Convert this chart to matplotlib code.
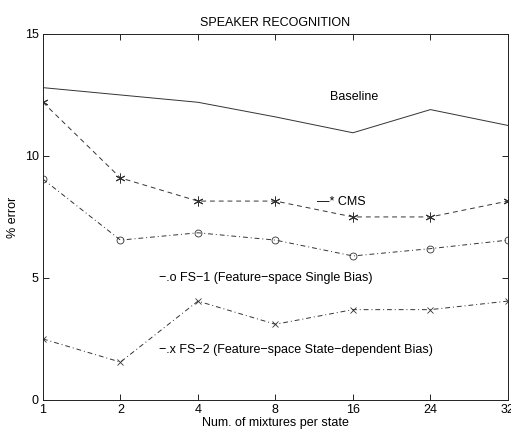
import matplotlib
matplotlib.use("Agg")
from matplotlib import pyplot as plt

plt.rcParams['font.family'] = ['Liberation Sans', 'DejaVu Sans']

#--- Data
mixtures = ['1', '2', '4', '8', '16', '24', '32']
baseline = [12.8, 12.5, 12.2, 11.6, 10.95, 11.9, 11.25]
cms = [12.2, 9.1, 8.15, 8.15, 7.5, 7.5, 8.15]
fs1 = [9.05, 6.55, 6.85, 6.55, 5.9, 6.2, 6.55]
fs2 = [2.5, 1.55, 4.05, 3.1, 3.7, 3.7, 4.05]

xpos = list(range(len(mixtures)))

fig = plt.figure(figsize=(5.11, 4.30), dpi=100)
ax = fig.add_axes([0.084, 0.07, 0.91, 0.851])

lc = '#333333'
ax.plot(xpos, baseline, color=lc, linestyle='-', linewidth=0.7)
ax.plot(xpos, cms, color=lc, linestyle='--', linewidth=0.7, dashes=(5, 4),
        marker=(6, 2, 0), markersize=7, markeredgewidth=0.7)
ax.plot(xpos, fs1, color=lc, linestyle='-.', linewidth=0.7, dashes=(5, 3, 1, 3),
        marker='o', markersize=5, markerfacecolor='none', markeredgewidth=0.6)
ax.plot(xpos, fs2, color=lc, linestyle='-.', linewidth=0.7, dashes=(5, 3, 1, 3),
        marker='x', markersize=5, markeredgewidth=0.6)

fs = 9
ax.text(3.7, 12.4, 'Baseline', fontsize=fs, ha='left', va='center')
ax.text(3.53, 8.1, '—* CMS', fontsize=fs, ha='left', va='center')
ax.text(1.5, 5.0, '\u2212.o FS\u22121 (Feature\u2212space Single Bias)', fontsize=fs, ha='left', va='center')
ax.text(1.5, 2.05, '\u2212.x FS\u22122 (Feature\u2212space State\u2212dependent Bias)', fontsize=fs, ha='left', va='center')

ax.set_xlim(0, 6)
ax.set_ylim(0, 15)
ax.set_xticks(xpos)
ax.set_xticklabels(mixtures)
ax.set_yticks([0, 5, 10, 15])
ax.tick_params(direction='in', top=True, right=True, labelsize=fs, length=4, width=0.6, pad=3)
for s in ax.spines.values():
    s.set_linewidth(0.7)
    s.set_color('#222222')

ax.set_title('SPEAKER RECOGNITION', fontsize=fs, pad=6)
ax.set_xlabel('Num. of mixtures per state', fontsize=fs, labelpad=1)
ax.set_ylabel('% error', fontsize=fs, labelpad=4)

fig.savefig('out.png', dpi=100)
